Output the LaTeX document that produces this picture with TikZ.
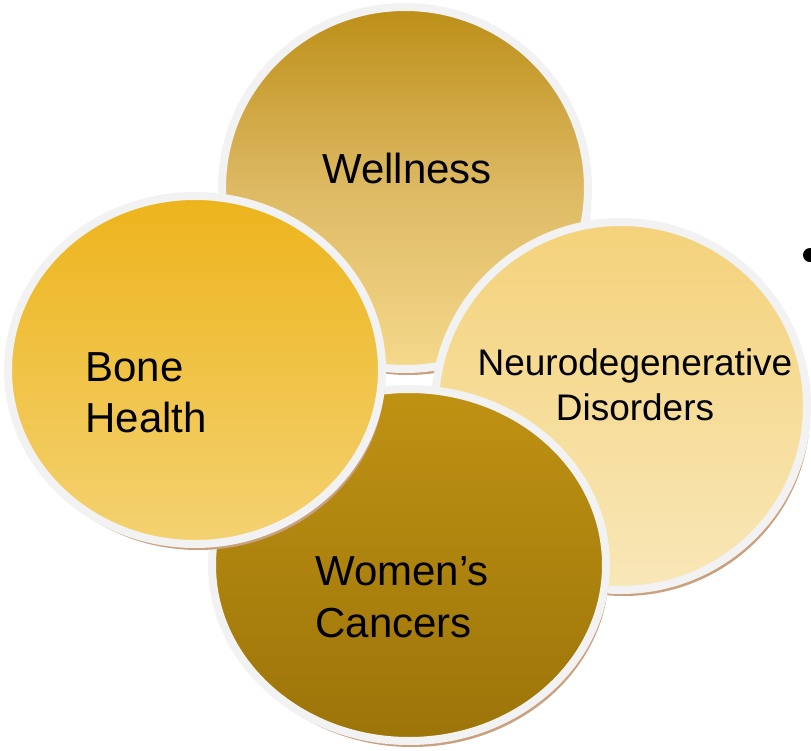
\documentclass[tikz,border=0pt]{standalone}
\usepackage{fontspec}
\setmainfont{Liberation Sans}
\usetikzlibrary{positioning, shapes.geometric, shadows}

\definecolor{rimgray}{HTML}{F2F2F2}
\definecolor{shadowtan}{HTML}{C9A17F}

\begin{document}
\begin{tikzpicture}[
  x=0.5pt, y=-0.5pt,
  topic/.style={ellipse, draw=rimgray, line width=4pt, inner sep=0pt,
    drop shadow={shadow xshift=1.5pt, shadow yshift=-3pt, fill=shadowtan, opacity=1}},
  wellfill/.style={top color={rgb,255:red,189;green,143;blue,23}, bottom color={rgb,255:red,245;green,217;blue,140}, middle color={rgb,255:red,221;green,185;blue,99}},
  neurofill/.style={top color={rgb,255:red,244;green,210;blue,122}, bottom color={rgb,255:red,248;green,231;blue,184}},
  womenfill/.style={top color={rgb,255:red,191;green,146;blue,19}, bottom color={rgb,255:red,156;green,116;blue,9}},
  bonefill/.style={top color={rgb,255:red,237;green,180;blue,27}, bottom color={rgb,255:red,244;green,210;blue,114}},
  lbl/.style={font=\fontsize{21}{25.5}\selectfont, text=black, inner sep=0pt},
  smalllbl/.style={font=\fontsize{18.5}{22.5}\selectfont, text=black, inner sep=0pt}
]
\useasboundingbox (0,0) rectangle (811,751);

% --- 1. Wellness ---
\node[topic, wellfill, minimum width=183pt, minimum height=181pt] (wellness) at (405,188) {};
\node[lbl, anchor=base] (wellnesstxt) at (407,183) {Wellness};

% --- 2. Neurodegenerative ---
\node[topic, neurofill, minimum width=186pt, minimum height=184pt] (neuro) at (621,406) {};
\node[smalllbl, anchor=base] (neurotxta) at (635,375) {Neurodegenerative};
\node[smalllbl, anchor=base] (neurotxtb) at (635,420) {Disorders};

% --- 3. Women's Cancers ---
\node[topic, womenfill, minimum width=197pt, minimum height=176pt] (women) at (409,565) {};
\node[lbl, anchor=base west] (womentxta) at (315,585) {Women’s};
\node[lbl, anchor=base west] (womentxtb) at (315,637) {Cancers};

% --- 4. Bone Health ---
\node[topic, bonefill, minimum width=187pt, minimum height=174pt] (bone) at (195,370) {};
\node[lbl, anchor=base west] (bonetxta) at (85,381) {Bone};
\node[lbl, anchor=base west] (bonetxtb) at (85,432) {Health};

% --- Bullet ---
\node[circle, fill=black, inner sep=0pt, minimum size=7pt] (bullet) at (810,255) {};

\end{tikzpicture}
\end{document}
